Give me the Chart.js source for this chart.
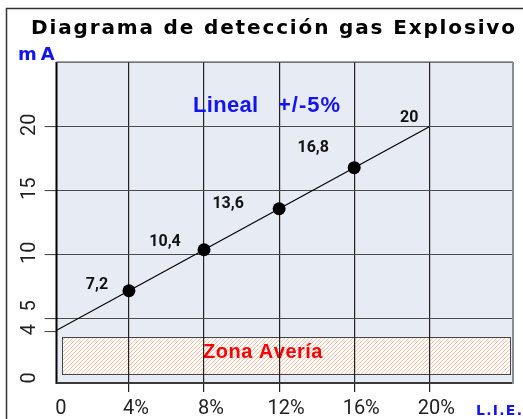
<!DOCTYPE html>
<html>
<head>
<meta charset="utf-8">
<script src="https://cdn.jsdelivr.net/npm/chart.js@4.4.1/dist/chart.umd.min.js"></script>
<style>
  html, body { margin: 0; padding: 0; background: #fff; }
</style>
</head>
<body>
<canvas id="chart" width="523" height="419"></canvas>
<script>
// % L.I.E. (x) and output current mA (y)
var lie = [0, 4, 8, 12, 16, 20];
var mA = [4, 7.2, 10.4, 13.6, 16.8, 20];
var xTicks = [0, 4, 8, 12, 16, 20];
var yTicks = [0, 4, 5, 10, 15, 20];
// fault zone, in data units
var zoneX = [0.45, 24.3];
var zoneY = [0.7, 3.6];

var BLUE = '#1414ee';

function spaced(ctx, text, x, y, sp) {
    for (var i = 0; i < text.length; i++) {
        ctx.fillText(text[i], x, y);
        x += ctx.measureText(text[i]).width + sp;
    }
}

function fitText(ctx, text, x, y, width) {
    var w = 0;
    for (var i = 0; i < text.length; i++) w += ctx.measureText(text[i]).width;
    spaced(ctx, text, x, y, (width - w) / (text.length - 1));
}

function fmt(v) {
    return String(v).replace('.', ',');
}

// label offsets (px) from each point
var labelShift = [null, [-32, -6], [-39, -8], [-51, -5], [-41, -20], [-20, -9]];
var yLabelShift = {0: -5, 5: -13};

var decor = {
    id: 'decor',
    beforeDraw: function (chart) {
        var ctx = chart.ctx, a = chart.chartArea;
        var xs = chart.scales.x, ys = chart.scales.y;
        ctx.save();
        ctx.fillStyle = '#fff';
        ctx.fillRect(0, 0, chart.width, chart.height);
        ctx.strokeStyle = '#333';
        ctx.lineWidth = 1.5;
        ctx.strokeRect(6.5, 8.5, 700, 700);

        ctx.fillStyle = '#e6ebf4';
        ctx.fillRect(a.left, a.top, a.right - a.left, a.bottom - a.top);

        // fault zone, hatched
        var l = Math.round(xs.getPixelForValue(zoneX[0])), r = Math.round(xs.getPixelForValue(zoneX[1]));
        var t = Math.round(ys.getPixelForValue(zoneY[1])), b = Math.round(ys.getPixelForValue(zoneY[0]));
        ctx.fillStyle = '#fff';
        ctx.fillRect(l, t, r - l, b - t);
        ctx.save();
        ctx.beginPath();
        ctx.rect(l, t, r - l, b - t);
        ctx.clip();
        ctx.strokeStyle = '#f8b898';
        ctx.lineWidth = 0.9;
        ctx.beginPath();
        for (var hx = l - (b - t); hx < r + 4; hx += 4) {
            ctx.moveTo(hx, b);
            ctx.lineTo(hx + (b - t), t);
        }
        ctx.stroke();
        ctx.restore();
        ctx.strokeStyle = '#444';
        ctx.lineWidth = 1;
        ctx.strokeRect(l + 0.5, t + 0.5, r - l, b - t);

        ctx.fillStyle = '#ff0000';
        ctx.font = 'bold 20px "Liberation Sans"';
        ctx.textBaseline = 'alphabetic';
        spaced(ctx, 'Zona Avería', 203, 358, 0.5);
        ctx.restore();
    },
    afterDraw: function (chart) {
        var ctx = chart.ctx, a = chart.chartArea;
        var xs = chart.scales.x, ys = chart.scales.y;
        ctx.save();

        // plot frame
        ctx.fillStyle = '#000';
        ctx.fillRect(a.left - 1, a.top, 2, a.bottom - a.top + 1);
        ctx.fillStyle = '#444';
        ctx.fillRect(a.left, a.top - 0.5, a.right - a.left, 1.2);
        ctx.fillStyle = '#3a3a3a';
        ctx.fillRect(a.left, a.bottom - 1, a.right - a.left + 1, 2);
        ctx.fillStyle = '#868b94';
        ctx.fillRect(a.right - 1, a.top, 2, a.bottom - a.top + 1);

        // title
        ctx.fillStyle = '#000';
        ctx.font = 'bold 20px "DejaVu Sans"';
        ctx.textBaseline = 'alphabetic';
        ctx.textAlign = 'left';
        fitText(ctx, 'Diagrama de detección gas Explosivo', 31, 34, 484);

        ctx.fillStyle = BLUE;
        ctx.font = 'bold 18px "DejaVu Sans"';
        spaced(ctx, 'mA', 18, 60, 4);

        ctx.font = 'bold 22px "Liberation Sans"';
        spaced(ctx, 'Lineal', 193, 112, 0.3);
        spaced(ctx, '+/-5%', 278, 112, 1);

        ctx.font = 'bold 14px "DejaVu Sans"';
        fitText(ctx, 'L.I.E.', 476, 415, 46);

        // y tick labels, rotated
        ctx.fillStyle = '#222';
        ctx.font = '20px Roboto';
        ctx.textAlign = 'center';
        yTicks.forEach(function (v) {
            var py = ys.getPixelForValue(v) + (yLabelShift[v] !== undefined ? yLabelShift[v] : -2);
            ctx.save();
            ctx.translate(35, py);
            ctx.rotate(-Math.PI / 2);
            ctx.fillText(String(v), 0, 0);
            ctx.restore();
        });

        // value labels
        ctx.fillStyle = '#111';
        ctx.font = 'bold 16px Roboto';
        ctx.textBaseline = 'middle';
        for (var i = 1; i < lie.length; i++) {
            var px = xs.getPixelForValue(lie[i]) + labelShift[i][0];
            var py = ys.getPixelForValue(mA[i]) + labelShift[i][1];
            ctx.fillText(fmt(mA[i]), px, py);
        }
        ctx.restore();
    }
};

function hideAt(values, color) {
    return function (c) {
        return c.tick && values.indexOf(c.tick.value) >= 0 ? 'rgba(0,0,0,0)' : color;
    };
}

new Chart(document.getElementById('chart'), {
    type: 'line',
    data: {
        datasets: [{
            data: lie.map(function (v, i) { return {x: v, y: mA[i]}; }),
            borderColor: '#000',
            borderWidth: 1.2,
            pointRadius: lie.map(function (v, i) { return i > 0 && i < lie.length - 1 ? 6.5 : 0; }),
            pointBackgroundColor: '#000',
            pointBorderWidth: 0,
            tension: 0
        }]
    },
    options: {
        responsive: false,
        animation: false,
        layout: {padding: {left: 0, top: 62, right: 10, bottom: 0}},
        plugins: {
            legend: {display: false},
            title: {display: false},
            tooltip: {enabled: false}
        },
        scales: {
            x: {
                type: 'linear',
                min: 0.14,
                max: 24.46,
                afterBuildTicks: function (s) {
                    s.ticks = xTicks.map(function (v) { return {value: v}; });
                },
                afterFit: function (s) { s.height = 36; },
                border: {display: false},
                grid: {
                    color: hideAt([0], '#222'),
                    tickColor: hideAt([0], '#222'),
                    lineWidth: 1.2,
                    tickLength: 9
                },
                ticks: {
                    padding: 5,
                    labelOffset: 7,
                    color: '#222',
                    autoSkip: false,
                    maxRotation: 0,
                    font: {family: 'Roboto', size: 20, lineHeight: 1.2},
                    callback: function (v) { return v === 0 ? '0' : v + '%'; }
                }
            },
            y: {
                type: 'linear',
                min: 0,
                max: 25.05,
                afterBuildTicks: function (s) {
                    s.ticks = yTicks.map(function (v) { return {value: v}; });
                },
                afterFit: function (s) { s.width = 56.5; },
                border: {display: false},
                grid: {
                    color: hideAt([0, 4], '#4a4a4a'),
                    tickColor: hideAt([0], '#4a4a4a'),
                    lineWidth: 1.1,
                    tickLength: 12
                },
                ticks: {display: false}
            }
        }
    },
    plugins: [decor]
});
</script>
</body>
</html>
